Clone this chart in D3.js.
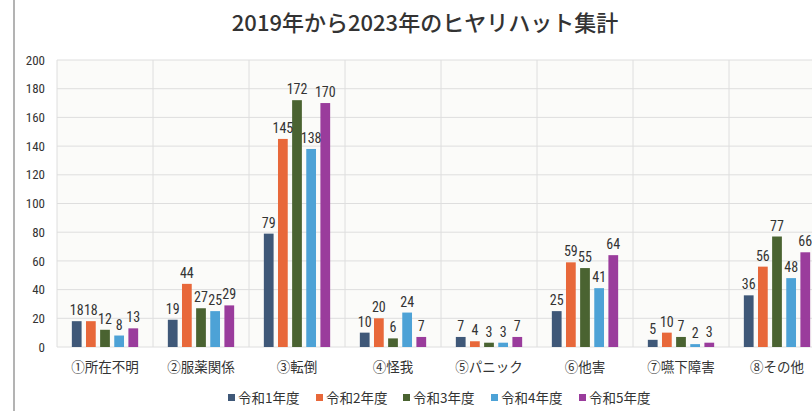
<!DOCTYPE html>
<html>
<head>
<meta charset="UTF-8">
<title>ヒヤリハット集計</title>
<script src="https://cdn.jsdelivr.net/npm/d3@7"></script>
<style>
    body { margin:0; background:#fff; }
    svg { display:block; }
    .title { font-family:"Noto Sans CJK JP", sans-serif; font-size:22px; font-weight:500; fill:#333; }
    .num { font-family:"Liberation Sans Narrow", "Roboto", sans-serif; font-stretch:condensed; fill:#333; }
    .cat { font-family:"Noto Sans CJK JP", sans-serif; font-size:13.5px; fill:#333; }
    .grid line { stroke:#dedede; stroke-width:1; }
</style>
</head>
<body>
<svg width="812" height="411"></svg>
<script>
var categories = ["①所在不明", "②服薬関係", "③転倒", "④怪我", "⑤パニック", "⑥他害", "⑦嚥下障害", "⑧その他"];
var seriesNames = ["令和1年度", "令和2年度", "令和3年度", "令和4年度", "令和5年度"];
var r1 = [18, 19, 79, 10, 7, 25, 5, 36];
var r2 = [18, 44, 145, 20, 4, 59, 10, 56];
var r3 = [12, 27, 172, 6, 3, 55, 7, 77];
var r4 = [8, 25, 138, 24, 3, 41, 2, 48];
var r5 = [13, 29, 170, 7, 7, 64, 3, 66];
var yTicks = [0, 20, 40, 60, 80, 100, 120, 140, 160, 180, 200];
var colors = ["#3f5878", "#e8683a", "#4a6331", "#4da2d6", "#9a3c9c"];

(function () {
    var series = [r1, r2, r3, r4, r5];
    var svg = d3.select("svg");

    // page edge line of the scan
    svg.append("line").attr("x1", 14).attr("x2", 14).attr("y1", 0).attr("y2", 411)
        .attr("stroke", "#9a9a9a").attr("stroke-width", 1.5);

    svg.append("text").attr("class", "title")
        .attr("x", 425).attr("y", 31).attr("text-anchor", "middle")
        .text("2019年から2023年のヒヤリハット集計");

    var plotL = 57, plotT = 60, plotB = 347, bandW = 96;
    var x = d3.scaleBand().domain(categories).range([plotL, plotL + bandW * categories.length]);
    var xi = d3.scaleBand().domain(d3.range(series.length)).range([0, x.bandwidth()]).paddingInner(0.31).paddingOuter(1.05);
    var y = d3.scaleLinear().domain([0, 200]).range([plotB, plotT]);

    // plot background + grid
    svg.append("rect").attr("x", plotL).attr("y", plotT).attr("width", 812 - plotL).attr("height", plotB - plotT)
        .attr("fill", "#fbfbf9");
    var grid = svg.append("g").attr("class", "grid");
    grid.selectAll(".h").data(yTicks).enter().append("line")
        .attr("x1", plotL).attr("x2", 812)
        .attr("y1", function (d) { return y(d); }).attr("y2", function (d) { return y(d); });
    grid.selectAll(".v").data(d3.range(categories.length + 1)).enter().append("line")
        .attr("x1", function (d) { return plotL + d * bandW; }).attr("x2", function (d) { return plotL + d * bandW; })
        .attr("y1", plotT).attr("y2", plotB);

    // y axis
    var yAxis = svg.append("g").attr("transform", "translate(" + (plotL - 12) + ",0)")
        .call(d3.axisLeft(y).tickValues(yTicks).tickSize(0).tickPadding(0));
    yAxis.select(".domain").remove();
    yAxis.selectAll("text").attr("class", "num").style("font-size", "13px").attr("fill", "#333");

    // x axis labels
    var xAxis = svg.append("g").attr("transform", "translate(0," + (plotB + 15) + ")")
        .call(d3.axisBottom(x).tickSize(0).tickPadding(0));
    xAxis.select(".domain").remove();
    xAxis.selectAll("text").attr("class", "cat").attr("fill", "#333");

    // bars
    var cells = function (d, ci) {
        return series.map(function (s, si) { return { si: si, v: s[ci] }; });
    };
    var groups = svg.append("g").selectAll("g").data(categories).enter().append("g")
        .attr("transform", function (d) { return "translate(" + x(d) + ",0)"; });
    groups.selectAll("rect").data(cells).enter().append("rect")
        .attr("x", function (d) { return xi(d.si); })
        .attr("width", xi.bandwidth())
        .attr("y", function (d) { return y(d.v); })
        .attr("height", function (d) { return plotB - y(d.v); })
        .attr("fill", function (d) { return colors[d.si]; });
    groups.selectAll("text").data(cells).enter().append("text")
        .attr("class", "num").style("font-size", "14px")
        .attr("text-anchor", "middle")
        .attr("x", function (d) { return xi(d.si) + xi.bandwidth() / 2; })
        .attr("y", function (d) { return y(d.v) - 6; })
        .text(function (d) { return d.v; });

    // legend
    var legendX = [228, 316, 403, 491, 579];
    var legend = svg.append("g").selectAll("g").data(seriesNames).enter().append("g")
        .attr("transform", function (d, i) { return "translate(" + legendX[i] + ",403)"; });
    legend.append("rect").attr("x", 0).attr("y", -9).attr("width", 7).attr("height", 7)
        .attr("fill", function (d, i) { return colors[i]; });
    legend.append("text").attr("class", "cat").attr("x", 10).attr("y", 0).text(function (d) { return d; });
})();
</script>
</body>
</html>
